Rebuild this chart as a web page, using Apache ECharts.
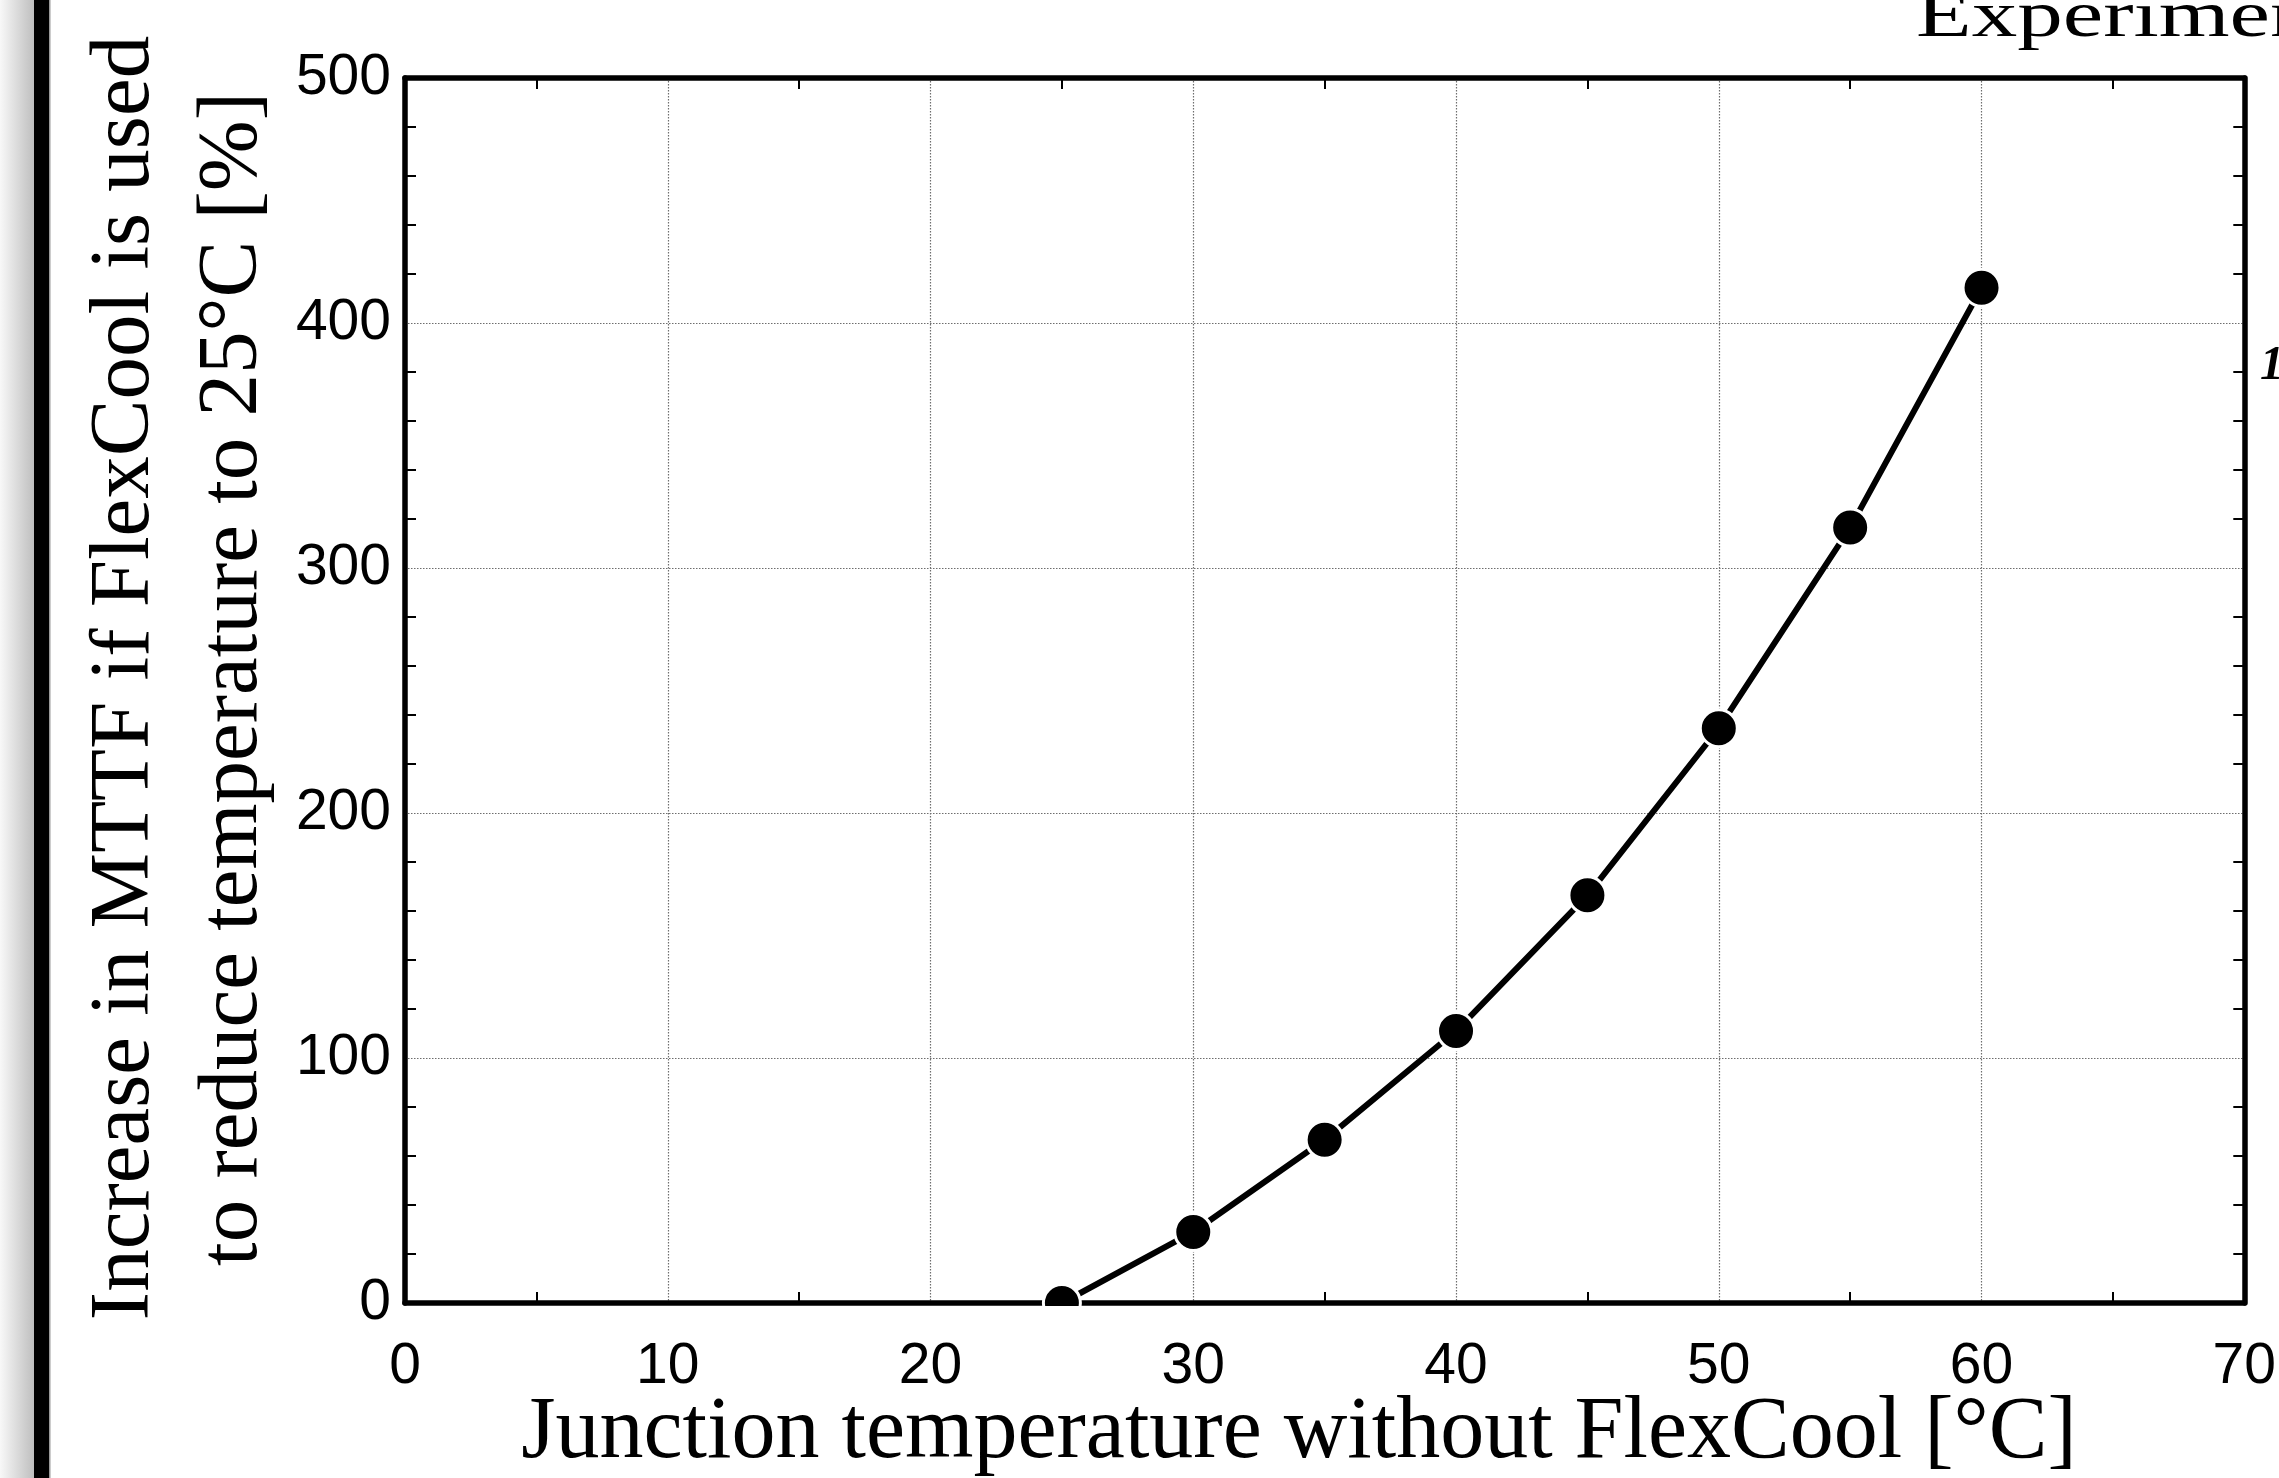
<!DOCTYPE html>
<html><head><meta charset="utf-8">
<script src="https://cdn.jsdelivr.net/npm/echarts@6/dist/echarts.min.js"></script>
<style>html,body{margin:0;padding:0;background:#fff;overflow:hidden}#c{width:2279px;height:1478px}</style>
</head><body><div id="c"></div>
<script>
// ---- data ----
const temps = [25, 30, 35, 40, 45, 50, 55, 60];
const mttfIncrease = [0, 29, 66.6, 111, 166.4, 234.6, 316.5, 414.4];
const xRange = { min: 0, max: 70, interval: 10 };
const yRange = { min: 0, max: 500, interval: 100 };
const xTitle = 'Junction temperature without FlexCool [°C]';
const yTitle1 = 'Increase in MTTF if FlexCool is used';
const yTitle2 = 'to reduce temperature to 25°C [%]';
const topText = 'Experimental';
const edgeText = '1';

const SERIF = '"Liberation Serif", "Times New Roman", serif';
const SANS = '"Liberation Sans", Arial, sans-serif';

const axisLine = { show: true, onZero: false, lineStyle: { color: '#000', width: 5.5 } };
const gridLine = { show: true, lineStyle: { color: '#6e6e6e', width: 1.2, type: [1.5, 1.5] } };

function xAx(pos, main) {
  return {
    type: 'value', position: pos, min: xRange.min, max: xRange.max, interval: xRange.interval,
    axisLine, axisTick: { show: false, inside: true },
    minorTick: { show: true, splitNumber: 2, length: 11, lineStyle: { color: '#000', width: 2 } },
    splitLine: main ? gridLine : { show: false },
    axisLabel: { show: main, color: '#000', fontFamily: SANS, fontSize: 57, margin: 36 }
  };
}
function yAx(pos, main) {
  return {
    type: 'value', position: pos, min: yRange.min, max: yRange.max, interval: yRange.interval,
    axisLine, axisTick: { show: false, inside: true },
    minorTick: { show: true, splitNumber: 5, length: 11, lineStyle: { color: '#000', width: 2 } },
    splitLine: main ? gridLine : { show: false },
    axisLabel: { show: main, color: '#000', fontFamily: SANS, fontSize: 57, margin: 14 }
  };
}

const chart = echarts.init(document.getElementById('c'), null, { renderer: 'canvas' });
chart.setOption({
  animation: false,
  backgroundColor: '#fff',
  grid: { left: 405, right: 29, top: 78, bottom: 175, containLabel: false },
  xAxis: [xAx('bottom', true), xAx('top', false)],
  yAxis: [yAx('left', true), yAx('right', false)],
  series: [{
    type: 'line',
    data: temps.map((t, i) => [t, mttfIncrease[i]]),
    symbol: 'circle', symbolSize: 37,
    lineStyle: { color: '#000', width: 6 },
    itemStyle: { color: '#000', borderColor: '#fff', borderWidth: 3 },
    clip: false, z: 5
  }],
  graphic: [
    // mask below the bottom axis (marker sits on the axis)
    { type: 'rect', shape: { x: 410, y: 1306, width: 1835, height: 26 }, style: { fill: '#fff' }, z: 100 },
    // left page edge decoration
    { type: 'rect', shape: { x: 0, y: 0, width: 35, height: 1478 },
      style: { fill: new echarts.graphic.LinearGradient(0, 0, 1, 0, [{ offset: 0, color: '#f8f8f8' }, { offset: 1, color: '#bdbdbd' }]) }, z: 100 },
    { type: 'rect', shape: { x: 34, y: 0, width: 15, height: 1478 }, style: { fill: '#000' }, z: 101 },
    { type: 'rect', shape: { x: 49, y: 0, width: 1.5, height: 1478 }, style: { fill: '#9a9a9a' }, z: 101 },
    // axis titles
    { type: 'text', x: 1299, y: 1434, z: 100,
      style: { text: xTitle, font: '88px ' + SERIF, fill: '#000', align: 'center', verticalAlign: 'middle' } },
    { type: 'text', x: 126, y: 678, rotation: Math.PI / 2, z: 100,
      style: { text: yTitle1, font: '85px ' + SERIF, fill: '#000', align: 'center', verticalAlign: 'middle' } },
    { type: 'text', x: 234, y: 679, rotation: Math.PI / 2, z: 100,
      style: { text: yTitle2, font: '85px ' + SERIF, fill: '#000', align: 'center', verticalAlign: 'middle' } },
    // cut-off texts at the page edges
    { type: 'text', x: 1916, y: -14, scaleX: 1.38, z: 100,
      style: { text: topText, font: '66px ' + SERIF, fill: '#000', align: 'left', verticalAlign: 'top' } },
    { type: 'text', x: 2260, y: 343, z: 100,
      style: { text: edgeText, font: 'italic bold 48px ' + SERIF, fill: '#000', align: 'left', verticalAlign: 'top' } }
  ]
});
</script></body></html>
